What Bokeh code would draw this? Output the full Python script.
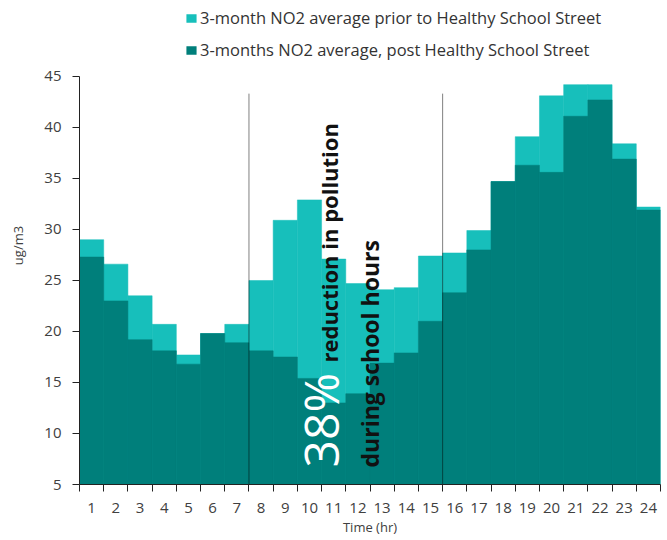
import math
from bokeh.plotting import figure
from bokeh.models import Range1d, FixedTicker, Legend, LegendItem
from bokeh.embed import file_html
from bokeh.resources import INLINE
from bokeh.core.properties import value

# ---- data ----
hours = list(range(1, 25))
hour_labels = [str(h) for h in hours]
prior = [29.0, 26.6, 23.5, 20.7, 17.7, 19.8, 20.7, 25.0, 30.9, 32.9, 27.1, 24.7,
         24.1, 24.3, 27.4, 27.7, 29.9, 34.7, 39.1, 43.1, 44.2, 44.2, 38.4, 32.2]
post = [27.3, 23.0, 19.2, 18.1, 16.8, 19.8, 18.9, 18.1, 17.5, 15.4, 13.0, 13.9,
        16.9, 17.9, 21.0, 23.8, 28.0, 34.7, 36.3, 35.6, 41.1, 42.7, 36.9, 31.9]
school_bounds = [7.5, 15.5]
divider_top = [43.3, 43.3]
divider_bottom = [5, 5]
y_ticks = [5, 10, 15, 20, 25, 30, 35, 40, 45]
bin_edges = [0.5 + i for i in range(25)]

label_prior = "3-month NO2 average prior to Healthy School Street"
label_post = "3-months NO2 average, post Healthy School Street"

LIGHT = "#17BFBB"
DARK = "#007F7B"
FONT = "Open Sans"
TXT = "#404040"

p = figure(width=664, height=539, x_range=Range1d(0.5, 24.5), y_range=Range1d(5, 51.86),
           output_backend="svg", toolbar_location=None,
           min_border_left=79, min_border_right=4, min_border_top=6, min_border_bottom=55)
p.xgrid.visible = False
p.ygrid.visible = False
p.outline_line_color = None
p.background_fill_color = "white"

r1 = p.vbar(x=hours, top=prior, bottom=0, width=1, fill_color=LIGHT, line_color=LIGHT, line_width=0.5)
r2 = p.vbar(x=hours, top=post, bottom=0, width=1, fill_color=DARK, line_color=DARK, line_width=0.5)

p.segment(x0=school_bounds, y0=divider_bottom, x1=school_bounds, y1=divider_top,
          line_color="#000000", line_dash="1 1", line_width=1)

p.text(x=[10.46], y=[6.67], text=["38%"], angle=math.pi / 2, text_font=value(FONT),
       text_font_size="48px", text_color="white",
       text_align="left", text_baseline="middle")
p.text(x=[10.79], y=[16.96], text=["reduction in pollution"], angle=math.pi / 2, text_font=value(FONT),
       text_font_size="22px", text_font_style="bold", text_color="#111111",
       text_align="left", text_baseline="middle")
p.text(x=[12.48], y=[6.67], text=["during school hours"], angle=math.pi / 2, text_font=value(FONT),
       text_font_size="23px", text_font_style="bold", text_color="#111111",
       text_align="left", text_baseline="middle")

# x axis
xa = p.xaxis[0]
xa.ticker = FixedTicker(ticks=hours, minor_ticks=bin_edges)
xa.major_label_overrides = {h: l for h, l in zip(hours, hour_labels)}
xa.major_tick_out = 0
xa.major_tick_in = 0
xa.minor_tick_out = 7
xa.minor_tick_in = 0
xa.minor_tick_line_color = "#222222"
xa.axis_line_color = "#222222"
xa.major_label_standoff = 11
xa.major_label_text_font = FONT
xa.major_label_text_font_size = "15px"
xa.major_label_text_color = TXT
xa.axis_label = "Time (hr)"
xa.axis_label_text_font = FONT
xa.axis_label_text_font_size = "13px"
xa.axis_label_text_font_style = "normal"
xa.axis_label_text_color = TXT
xa.axis_label_standoff = 2

# y axis
ya = p.yaxis[0]
ya.ticker = FixedTicker(ticks=y_ticks, minor_ticks=[])
ya.bounds = (5, 45)
ya.major_tick_out = 7
ya.major_tick_in = 0
ya.major_tick_line_color = "#222222"
ya.axis_line_color = "#222222"
ya.major_label_standoff = 11
ya.major_label_text_font = FONT
ya.major_label_text_font_size = "15px"
ya.major_label_text_color = TXT
ya.axis_label = "ug/m3"
ya.axis_label_text_font = FONT
ya.axis_label_text_font_size = "13px"
ya.axis_label_text_font_style = "normal"
ya.axis_label_text_color = TXT
ya.axis_label_standoff = 14

legend = Legend(items=[LegendItem(label=label_prior, renderers=[r1]),
                       LegendItem(label=label_post, renderers=[r2])],
                location=(106, 423), orientation="vertical",
                glyph_width=12, glyph_height=10, label_height=20, spacing=9,
                padding=0, margin=0, label_standoff=3,
                label_text_font=FONT, label_text_font_size="16.5px", label_text_color="#333333",
                background_fill_alpha=0, border_line_alpha=0)
p.add_layout(legend, "center")

open("out.html", "w").write(file_html(p, INLINE))
